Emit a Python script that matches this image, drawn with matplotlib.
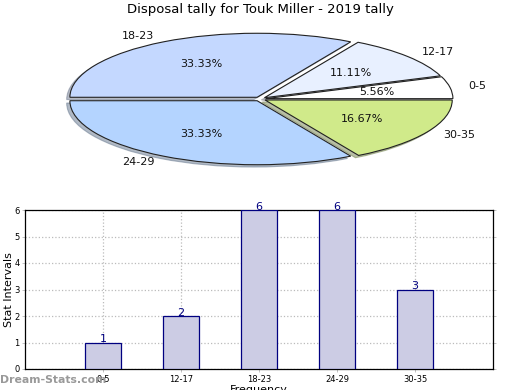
import matplotlib
matplotlib.use("Agg")
import matplotlib.pyplot as plt

title = "Disposal tally for Touk Miller - 2019 tally"
categories = ["0-5", "12-17", "18-23", "24-29", "30-35"]
values = [1, 2, 6, 6, 3]
pie_colors = ["#ffffff", "#e8f0ff", "#c4d8ff", "#b4d4ff", "#d0ea8a"]
yticks = [0, 1, 2, 3, 4, 5, 6]

fig = plt.figure(figsize=(5.2, 3.9), dpi=100)

# Pie (elliptical)
axp = fig.add_axes([0, 192/390, 1, 198/390])
wedges, texts, autotexts = axp.pie(
    values, labels=categories, colors=pie_colors, startangle=0,
    counterclock=True, explode=[0.03]*len(values), radius=0.97,
    shadow={"ox": -0.012, "oy": -0.025, "shade": 0.45},
    autopct="%.2f%%", pctdistance=0.6, labeldistance=1.1,
    wedgeprops=dict(edgecolor="#222222", linewidth=0.8),
    textprops=dict(fontsize=8, color="#111111"))
axp.set_aspect("auto")
axp.set_xlim(-260/193, 260/193)
axp.set_ylim(-1.5, 1.5)
axp.axis("off")

fig.text(0.5, 1 - 10/390, title, ha="center", va="center", fontsize=9.5)

# Bar chart
axb = fig.add_axes([25/520, 21/390, 468/520, 159/390])
x = list(range(1, len(categories) + 1))
axb.bar(x, values, width=0.46, color="#cccce4", edgecolor="#000080", linewidth=0.9, zorder=3)
for xi, v in zip(x, values):
    axb.annotate(str(v), (xi, v), xytext=(0, 2.5), textcoords="offset points",
                 ha="center", va="center", color="#000080", fontsize=8, zorder=4,
                 annotation_clip=False)
axb.set_xlim(0, 6)
axb.set_ylim(0, 6)
axb.set_xticks(x)
axb.set_xticklabels(categories, fontsize=6)
axb.set_yticks(yticks)
axb.set_yticklabels([str(t) for t in yticks], fontsize=6)
axb.tick_params(axis="both", length=2, width=0.5, color="#aaaaaa", pad=2, right=True)
axb.grid(True, linestyle=":", color="#bbbbbb", linewidth=0.9, zorder=0)
axb.set_ylabel("Stat Intervals", fontsize=8, labelpad=0)
axb.set_xlabel("Frequency", fontsize=8, labelpad=1)
for s in axb.spines.values():
    s.set_linewidth(0.9)

fig.text(0.0, 1 - 380/390, "Dream-Stats.com", ha="left", va="center", fontsize=7.8,
         color="#999999", fontweight="bold")

fig.savefig("out.png", dpi=100)
